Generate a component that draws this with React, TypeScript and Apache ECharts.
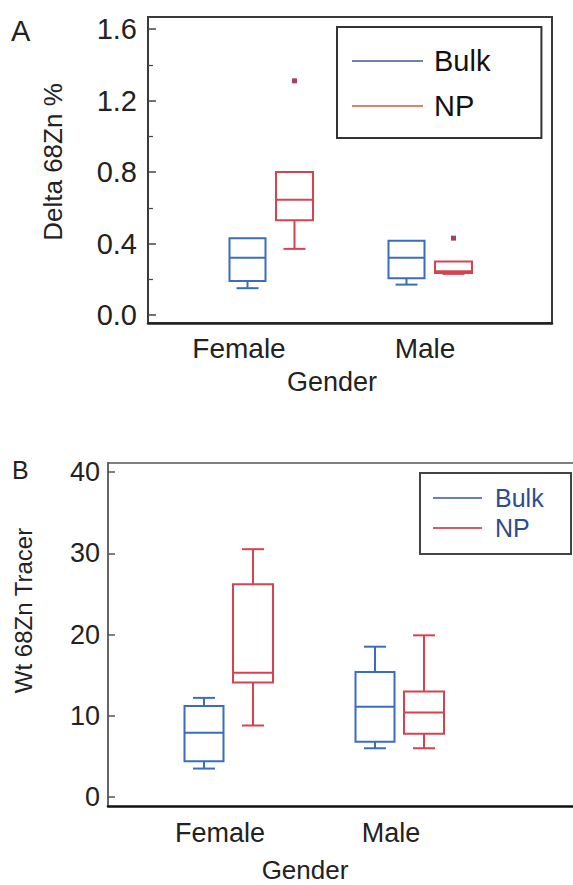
import React, { useEffect, useRef } from "react";
import * as echarts from "echarts";

const categories = ["Female", "Male"];
// [min, Q1, median, Q3, max]
const aBulk = [
  [0.15, 0.19, 0.32, 0.43, 0.43],
  [0.17, 0.205, 0.32, 0.415, 0.415],
];
const aNP = [
  [0.37, 0.53, 0.645, 0.8, 0.8],
  [0.23, 0.235, 0.245, 0.3, 0.3],
];
const aNPOutliers = [
  [0, 1.31],
  [1, 0.43],
];
const bBulk = [
  [3.5, 4.4, 7.9, 11.2, 12.2],
  [6.0, 6.8, 11.1, 15.4, 18.5],
];
const bNP = [
  [8.8, 14.1, 15.3, 26.2, 30.5],
  [6.0, 7.8, 10.4, 13.0, 19.9],
];
const aTicks = { min: 0, max: 1.6, interval: 0.4 };
const bTicks = { min: 0, max: 40, interval: 10 };

const BLUE = "#3a6dbf";
const RED = "#d6434f";
const FONT = "Liberation Sans, Arial, sans-serif";

function toItems(rows: number[][]) {
  return rows.map((r, i) => [i, ...r]);
}

function boxRender(offset: number, halfW: number, capHalf: number, color: string) {
  return (params: any, api: any) => {
    const i = api.value(0);
    const vals = [1, 2, 3, 4, 5].map((d) => api.value(d));
    const pts = vals.map((v) => api.coord([i, v]));
    const cx = pts[0][0] + offset;
    const [yMin, yQ1, yMed, yQ3, yMax] = pts.map((p: number[]) => p[1]);
    const ls = { stroke: color, lineWidth: 2 };
    const children: any[] = [
      {
        type: "rect",
        shape: { x: cx - halfW, y: yQ3, width: 2 * halfW, height: yQ1 - yQ3 },
        style: { stroke: color, lineWidth: 2, fill: "rgba(0,0,0,0)" },
      },
      { type: "line", shape: { x1: cx - halfW, y1: yMed, x2: cx + halfW, y2: yMed }, style: ls },
    ];
    if (vals[4] > vals[3]) {
      children.push({ type: "line", shape: { x1: cx, y1: yQ3, x2: cx, y2: yMax }, style: ls });
      children.push({ type: "line", shape: { x1: cx - capHalf, y1: yMax, x2: cx + capHalf, y2: yMax }, style: ls });
    }
    if (vals[0] < vals[1]) {
      children.push({ type: "line", shape: { x1: cx, y1: yQ1, x2: cx, y2: yMin }, style: ls });
      children.push({ type: "line", shape: { x1: cx - capHalf, y1: yMin, x2: cx + capHalf, y2: yMin }, style: ls });
    }
    return { type: "group", children };
  };
}

function outlierRender(offset: number, color: string) {
  return (params: any, api: any) => {
    const p = api.coord([api.value(0), api.value(1)]);
    return {
      type: "rect",
      shape: { x: p[0] + offset - 2.5, y: p[1] - 2.5, width: 5, height: 5 },
      style: { fill: color },
    };
  };
}

export default function App() {
  const ref = useRef<HTMLDivElement>(null);
  useEffect(() => {
    if (!ref.current) return;
    const chart = echarts.init(ref.current, null, { renderer: "svg" });
    const hiddenAxis = (gi: number) => ({
      gridIndex: gi,
      type: "value",
      min: 0,
      max: 1,
      axisLabel: { show: false },
      axisTick: { show: false },
      splitLine: { show: false },
      axisLine: { show: false },
    });
    const option: any = {
      animation: false,
      textStyle: { fontFamily: FONT },
      title: [
        { text: "A", left: 6, top: 11, textStyle: { fontSize: 29, fontWeight: "normal", color: "#222", fontFamily: FONT } },
        { text: "B", left: 7, top: 452, textStyle: { fontSize: 25, fontWeight: "normal", color: "#222", fontFamily: FONT } },
      ],
      legend: [
        {
          left: 337,
          top: 27,
          orient: "vertical",
          data: [
            { name: "Bulk", itemStyle: { color: "#6f7fb8" } },
            { name: "NP", itemStyle: { color: "#e0806f" } },
          ],
          icon: "rect",
          itemWidth: 71,
          itemHeight: 2,
          itemGap: 15,
          padding: [19, 51, 17, 15],
          borderColor: "#333",
          borderWidth: 2,
          selectedMode: false,
          textStyle: { fontSize: 29, color: "#111", lineHeight: 30, padding: [0, 0, 0, 6], fontFamily: FONT },
        },
        {
          left: 420,
          top: 473,
          orient: "vertical",
          data: [
            { name: "Bulk", itemStyle: { color: "#6a7fc0" } },
            { name: "NP", itemStyle: { color: "#dc5a64" } },
          ],
          icon: "rect",
          itemWidth: 49,
          itemHeight: 2,
          itemGap: 4,
          padding: [12, 0, 13, 13],
          borderColor: "#444",
          borderWidth: 2,
          selectedMode: false,
          textStyle: { fontSize: 25, color: "#2f4c8f", lineHeight: 26, width: 76, padding: [0, 0, 0, 8], fontFamily: FONT },
        },
      ],
      grid: [
        { left: 148, top: 17, width: 404, height: 306, show: true, borderColor: "#3a3a3a", borderWidth: 2, backgroundColor: "transparent" },
        { left: 191.5, top: 29, width: 318, height: 286 },
        { left: 108, top: 463, width: 465, height: 343 },
        { left: 143, top: 472, width: 342, height: 325 },
      ],
      xAxis: [
        { ...hiddenAxis(0), axisLine: { show: true, lineStyle: { color: "#222", width: 2.5 } } },
        {
          gridIndex: 1,
          type: "category",
          data: categories,
          axisLine: { show: false },
          axisTick: { show: false },
          axisLabel: {
            interval: 0,
            margin: 19,
            fontSize: 28,
            color: "#222",
            formatter: (v: string) => (v === "Female" ? "{f|" + v + "}" : "{m|" + v + "}"),
            rich: {
              f: { fontSize: 28, color: "#222", fontFamily: FONT, padding: [0, 64, 0, 0] },
              m: { fontSize: 28, color: "#222", fontFamily: FONT, padding: [0, 10, 0, 0] },
            },
          },
          name: "Gender",
          nameLocation: "middle",
          nameGap: 53,
          nameTextStyle: { fontSize: 27, color: "#222", fontFamily: FONT, padding: [0, 37, 0, 0] },
        },
        { ...hiddenAxis(2), axisLine: { show: true, lineStyle: { color: "#111", width: 2.5 } } },
        {
          gridIndex: 3,
          type: "category",
          data: categories,
          axisLine: { show: false },
          axisTick: { show: false },
          axisLabel: {
            interval: 0,
            margin: 22,
            fontSize: 27,
            color: "#222",
            fontFamily: FONT,
            padding: [0, 17, 0, 0],
          },
          name: "Gender",
          nameLocation: "middle",
          nameGap: 60,
          nameTextStyle: { fontSize: 26, color: "#222", fontFamily: FONT, padding: [0, 18, 0, 0] },
        },
        { ...hiddenAxis(2), position: "top", axisLine: { show: true, lineStyle: { color: "#555", width: 1.5 } } },
      ],
      yAxis: [
        hiddenAxis(0),
        {
          gridIndex: 1,
          type: "value",
          min: aTicks.min,
          max: aTicks.max,
          interval: aTicks.interval,
          offset: 43.5,
          axisLine: { show: false },
          axisTick: { show: true, inside: true, length: 8, lineStyle: { color: "#444", width: 1.5 } },
          minorTick: { show: true, splitNumber: 2, length: 5, lineStyle: { color: "#444", width: 1.2 } },
          splitLine: { show: false },
          axisLabel: { fontSize: 29, color: "#222", margin: 11, fontFamily: FONT, formatter: (v: number) => v.toFixed(1) },
          name: "Delta 68Zn %",
          nameLocation: "middle",
          nameGap: 82,
          nameTextStyle: { fontSize: 26, color: "#222", fontFamily: FONT, padding: [0, 0, 0, 20] },
        },
        { ...hiddenAxis(2), axisLine: { show: true, lineStyle: { color: "#555", width: 1.8 } } },
        {
          gridIndex: 3,
          type: "value",
          min: bTicks.min,
          max: bTicks.max,
          interval: bTicks.interval,
          offset: 35,
          axisLine: { show: false },
          axisTick: { show: true, inside: true, length: 7, lineStyle: { color: "#555", width: 1.5 } },
          splitLine: { show: false },
          axisLabel: { fontSize: 27, color: "#222", margin: 8, fontFamily: FONT },
          name: "Wt 68Zn Tracer",
          nameLocation: "middle",
          nameGap: 73,
          nameTextStyle: { fontSize: 24, color: "#222", fontFamily: FONT, padding: [0, 0, 0, 48] },
        },
      ],
      series: [
        {
          type: "custom",
          name: "Bulk",
          xAxisIndex: 1,
          yAxisIndex: 1,
          itemStyle: { color: BLUE },
          encode: { x: 0, y: [1, 2, 3, 4, 5] },
          data: toItems(aBulk),
          renderItem: boxRender(-23.5, 18, 11, BLUE),
        },
        {
          type: "custom",
          name: "NP",
          xAxisIndex: 1,
          yAxisIndex: 1,
          itemStyle: { color: RED },
          encode: { x: 0, y: [1, 2, 3, 4, 5] },
          data: toItems(aNP),
          renderItem: boxRender(23.5, 18.5, 11, RED),
        },
        {
          type: "custom",
          name: "NP outliers",
          xAxisIndex: 1,
          yAxisIndex: 1,
          encode: { x: 0, y: 1 },
          data: aNPOutliers,
          renderItem: outlierRender(23.5, "#a4406c"),
        },
        {
          type: "custom",
          name: "Bulk",
          xAxisIndex: 3,
          yAxisIndex: 3,
          itemStyle: { color: BLUE },
          encode: { x: 0, y: [1, 2, 3, 4, 5] },
          data: toItems(bBulk),
          renderItem: boxRender(-24.5, 19.5, 11, BLUE),
        },
        {
          type: "custom",
          name: "NP",
          xAxisIndex: 3,
          yAxisIndex: 3,
          itemStyle: { color: RED },
          encode: { x: 0, y: [1, 2, 3, 4, 5] },
          data: toItems(bNP),
          renderItem: boxRender(24.5, 20, 11, RED),
        },
      ],
    };
    chart.setOption(option);
    return () => chart.dispose();
  }, []);
  return (
    <div
      ref={ref}
      style={{ position: "fixed", left: 0, top: 0, width: 573, height: 885, background: "#fff" }}
    />
  );
}
